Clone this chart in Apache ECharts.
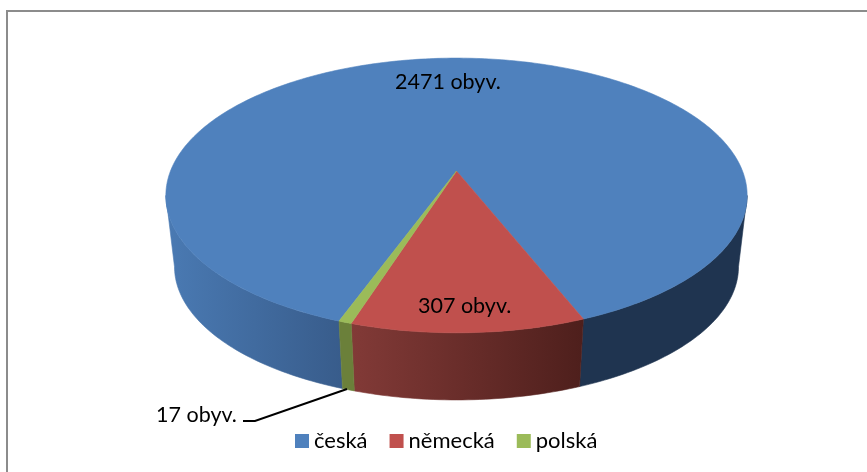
<!DOCTYPE html>
<html>
<head>
<meta charset="utf-8">
<style>html,body{margin:0;padding:0;background:#fff}#c{width:867px;height:472px}</style>
<script src="https://cdn.jsdelivr.net/npm/echarts@6/dist/echarts.min.js"></script>
</head>
<body>
<div id="c"></div>
<script>
const categories = ['česká', 'německá', 'polská'];
const residents = [2471, 307, 17];
const unitSuffix = ' obyv.';

const FONT = 'Lato, "Noto Sans", sans-serif';
const topColors = ['#4f81bd', '#c0504d', '#9bbb59'];
const START_ANGLE = 200;
const TOP_FACE = { cx: 456.5, cy: 171, a: 286, b: 133 };
const BOTTOM_FACE = { cx: 456.5, cy: 243, a: 277.5, b: 129 };
const K = 0.178;
const FRONT_FROM = 100.25, FRONT_TO = 259.75;
const sideShades = [
  { left: ['#4a7ab3', '#385c8b'], right: ['#1f3450', '#1f3450'] },
  { left: ['#823a37', '#4e1f1c'], right: ['#823a37', '#4e1f1c'] },
  { left: ['#6b803a', '#6b803a'], right: ['#6b803a', '#6b803a'] }
];
const labelPlaces = [
  { x: 395, y: 82 },
  { x: 418, y: 306 },
  { x: 156, y: 415 }
];
const leader = { index: 2, points: [[243, 421], [255, 421], [347, 389]] };

const total = residents.reduce((s, v) => s + v, 0);
const starts = [];
residents.reduce((acc, v, i) => { starts[i] = acc; return acc + v / total * 360; }, START_ANGLE);

function project(face, deg) {
  const t = deg * Math.PI / 180;
  const u = Math.sin(t), v = -Math.cos(t), w = 1 - K * v;
  return [face.cx + face.a * u / w, face.cy + face.b * v / w];
}
function arc(face, from, to) {
  const n = Math.max(2, Math.ceil(Math.abs(to - from) / 1));
  const pts = [];
  for (let i = 0; i <= n; i++) pts.push(project(face, from + (to - from) * i / n));
  return pts;
}
function frontRanges(from, to) {
  const out = [];
  [0, 360].forEach(shift => {
    const a = Math.max(from, FRONT_FROM + shift), b = Math.min(to, FRONT_TO + shift);
    if (b > a) out.push([a, b]);
  });
  return out;
}
function renderSlice(index) {
  return function (params, api) {
    const value = api.value(0);
    const from = starts[index], to = from + value / total * 360;
    const children = [];
    frontRanges(from, to).forEach(r => {
      const topArc = arc(TOP_FACE, r[0], r[1]);
      const bottomArc = arc(BOTTOM_FACE, r[0], r[1]);
      const poly = topArc.concat(bottomArc.reverse());
      const xs = poly.map(p => p[0]);
      const x0 = Math.min.apply(null, xs), x1 = Math.max.apply(null, xs);
      const isLeft = (r[0] % 360) >= 180;
      const shade = sideShades[index][isLeft ? 'left' : 'right'];
      const fill = {
        type: 'linear', x: x0, y: 0, x2: x1, y2: 0, global: true,
        colorStops: [{ offset: 0, color: shade[0] }, { offset: 1, color: shade[1] }]
      };
      children.push({
        type: 'polygon', z2: 1,
        shape: { points: poly },
        style: { fill: fill, stroke: fill, lineWidth: 0.6 }
      });
    });
    children.push({
      type: 'polygon', z2: 2,
      shape: { points: [[TOP_FACE.cx, TOP_FACE.cy]].concat(arc(TOP_FACE, from, to)) },
      style: { fill: topColors[index], stroke: topColors[index], lineWidth: 0.6 }
    });
    if (leader.index === index) {
      children.push({
        type: 'polyline', z2: 5,
        shape: { points: leader.points },
        style: { stroke: '#000', lineWidth: 2, fill: null }
      });
    }
    children.push({
      type: 'text', z2: 6,
      style: {
        x: labelPlaces[index].x, y: labelPlaces[index].y,
        text: value + unitSuffix, fill: '#000',
        font: '21.5px ' + FONT, textVerticalAlign: 'middle', textAlign: 'left'
      }
    });
    return { type: 'group', children: children };
  };
}

const chart = echarts.init(document.getElementById('c'), null, { renderer: 'canvas' });
chart.setOption({
  animation: false,
  backgroundColor: '#fff',
  graphic: [
    { type: 'line', silent: true, shape: { x1: 6, y1: 11, x2: 867, y2: 11 }, style: { stroke: '#8c8c8c', lineWidth: 2 } },
    { type: 'line', silent: true, shape: { x1: 7, y1: 10, x2: 7, y2: 472 }, style: { stroke: '#8c8c8c', lineWidth: 2 } }
  ],
  legend: {
    left: 295, top: 430, icon: 'rect', itemWidth: 14, itemHeight: 14, itemGap: 22,
    padding: 0,
    data: categories,
    textStyle: { color: '#000', fontSize: 22, fontFamily: FONT, padding: [0, 0, 0, 0] }
  },
  series: categories.map((name, i) => ({
    type: 'custom',
    name: name,
    coordinateSystem: 'none',
    itemStyle: { color: topColors[i] },
    renderItem: renderSlice(i),
    data: [[residents[i]]]
  }))
});
</script>
</body>
</html>
